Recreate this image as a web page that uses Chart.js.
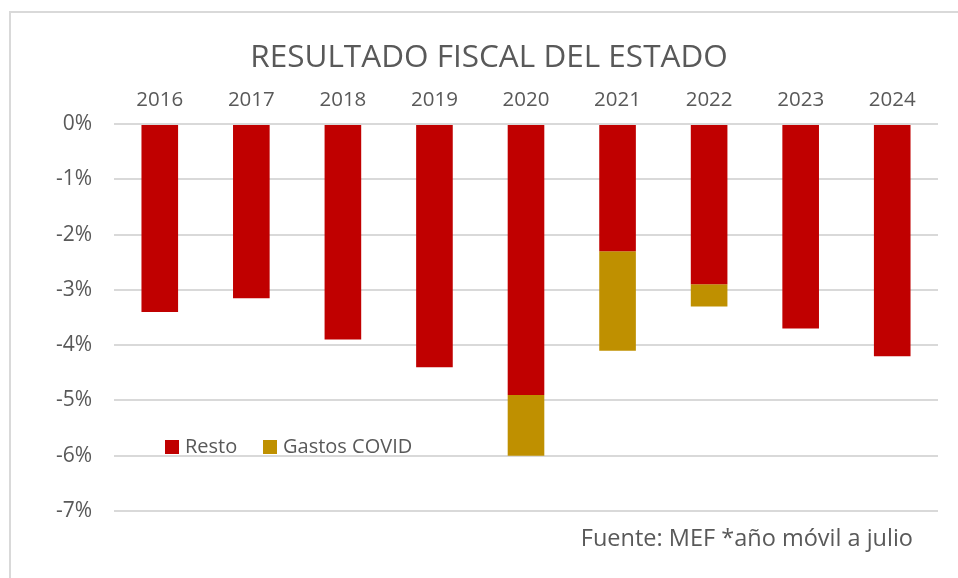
<!DOCTYPE html>
<html>
<head>
<meta charset="utf-8">
<script src="https://cdn.jsdelivr.net/npm/chart.js@4.4.1/dist/chart.umd.min.js"></script>
<style>
  html, body { margin:0; padding:0; background:#fff; }
  #wrap { position:relative; width:958px; height:578px; overflow:hidden; font-family:"Open Sans", sans-serif; color:#595959; }
  #frame { position:absolute; left:9px; top:11px; width:980px; height:600px; border:2px solid #d9d9d9; box-sizing:border-box; }
  #chart { position:absolute; left:0; top:0; }
  #title { position:absolute; left:0; width:978px; top:36px; text-align:center; font-size:31.5px; line-height:38px; white-space:nowrap; }
  .legend { position:absolute; top:432px; font-size:20px; line-height:28px; white-space:nowrap; }
  .legend span.sw { display:inline-block; width:14px; height:14px; margin-right:6px; vertical-align:-1px; }
  #source { position:absolute; right:45px; top:522px; font-size:23.5px; line-height:31px; white-space:nowrap; }
</style>
</head>
<body>
<div id="wrap">
  <div id="frame"></div>
  <canvas id="chart" width="958" height="578"></canvas>
  <div id="title">RESULTADO FISCAL DEL ESTADO</div>
  <div class="legend" style="left:165px"><span class="sw" style="background:#c00000"></span>Resto</div>
  <div class="legend" style="left:263px"><span class="sw" style="background:#bf9000"></span>Gastos COVID</div>
  <div id="source">Fuente: MEF *año móvil a julio</div>
</div>
<script>
// Años y series (% del PIB)
var YEARS = ['2016','2017','2018','2019','2020','2021','2022','2023','2024'];
var RESTO = [-3.4, -3.15, -3.9, -4.4, -4.9, -2.3, -2.9, -3.7, -4.2];
var COVID = [0, 0, 0, 0, -1.1, -1.8, -0.4, 0, 0];
var Y_MIN = -7, Y_MAX = 0, Y_STEP = 1;

var FONT = '"Open Sans", sans-serif';
var GREY = '#595959';

var ctx = document.getElementById('chart');
new Chart(ctx, {
  type:'bar',
  data:{
    labels: YEARS,
    datasets:[
      { label:'Resto', data:RESTO, backgroundColor:'#c00000', barPercentage:0.4, categoryPercentage:1 },
      { label:'Gastos COVID', data:COVID, backgroundColor:'#bf9000', barPercentage:0.4, categoryPercentage:1 }
    ]
  },
  options:{
    responsive:false, animation:false,
    layout:{ padding:{ top:10, left:10, right:20, bottom:67 } },
    plugins:{
      legend:{ display:false },
      tooltip:{ enabled:false },
      title:{ display:false }
    },
    scales:{
      x:{
        position:'top', stacked:true,
        grid:{ display:false, drawTicks:false },
        border:{ display:false },
        ticks:{ color:GREY, font:{ family:FONT, size:20.5 }, padding:12 },
        afterFit:function(s){ s.height = 124 - 10; }
      },
      y:{
        stacked:true, min:Y_MIN, max:Y_MAX,
        grid:{ color:'#d9d9d9', lineWidth:2, drawTicks:false },
        border:{ display:false },
        ticks:{ stepSize:Y_STEP, color:GREY, font:{ family:FONT, size:21 }, padding:22,
          callback:function(v){ return v + '%'; } },
        afterFit:function(s){ s.width = 114 - 10; }
      }
    }
  }
});
</script>
</body>
</html>
